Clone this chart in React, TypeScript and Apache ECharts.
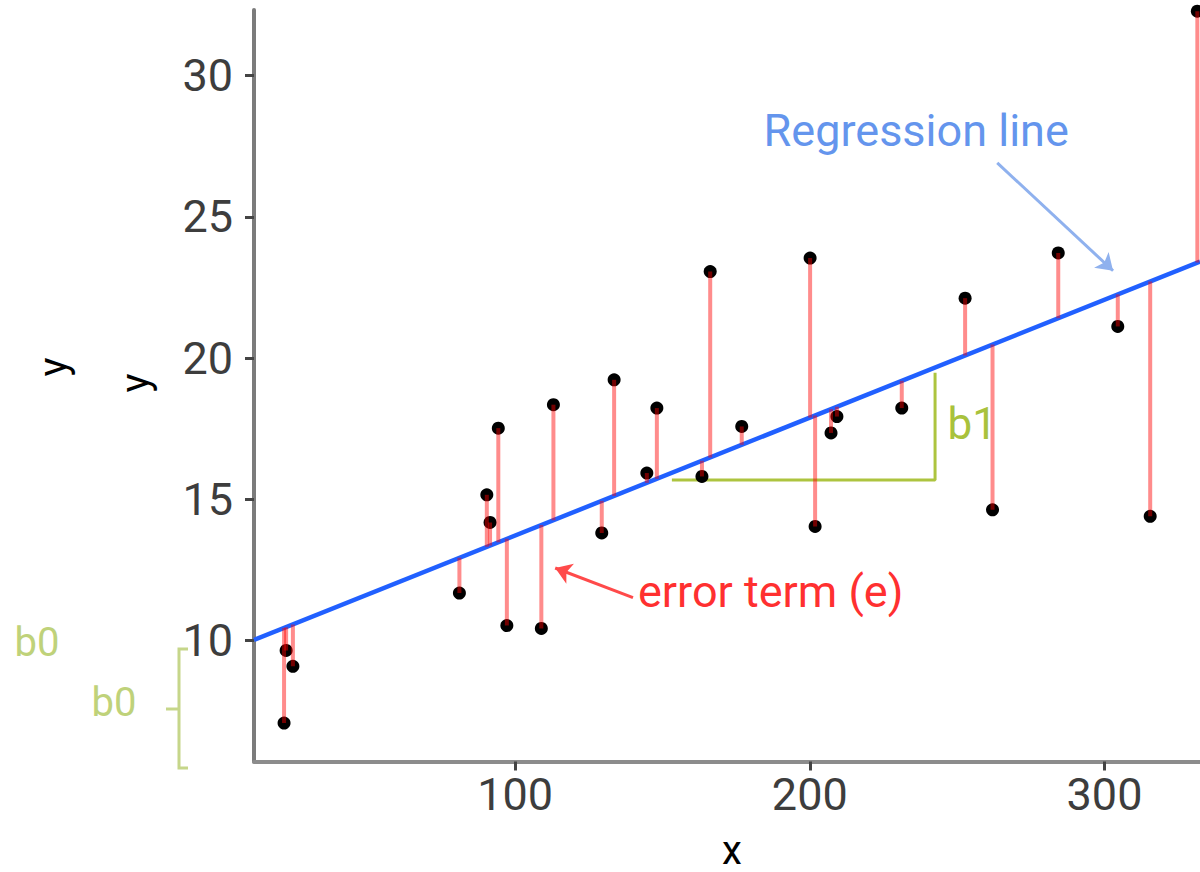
import React, { useEffect, useRef } from "react";
import * as echarts from "echarts";

const X_VALUES = [21.6, 22.3, 24.6, 81.1, 90.4, 91.5, 94.3, 97.2, 108.9, 113.0, 129.4, 133.6, 144.7, 148.1, 163.4, 166.2, 176.9, 200.1, 201.8, 207.2, 209.2, 231.2, 252.7, 262.0, 284.3, 304.5, 315.5, 331.5];
const Y_VALUES = [7.08, 9.65, 9.09, 11.68, 15.16, 14.18, 17.52, 10.53, 10.43, 18.35, 13.81, 19.23, 15.93, 18.23, 15.81, 23.06, 17.58, 23.54, 14.04, 17.35, 17.93, 18.23, 22.12, 14.63, 23.72, 21.12, 14.40, 32.28];

// Fitted regression line y = b0 + b1 * x
const INTERCEPT = 9.544;
const SLOPE = 0.04174;

// Axes
const X_RANGE = [11.4, 332.4];
const Y_RANGE = [5.72, 32.32];
const X_TICKS = [100, 200, 300];
const Y_TICKS = [10, 15, 20, 25, 30];

// b1 "run / rise" triangle (data coordinates)
const TRIANGLE_X = [153.2, 242.5, 242.5];
const TRIANGLE_Y = [15.68, 15.68, 19.48];

// Annotation arrows (data coordinates)
const REG_ARROW_FROM = [263.6, 26.91];
const REG_ARROW_TO = [302.9, 23.09];
const ERR_ARROW_FROM = [140.0, 11.52];
const ERR_ARROW_TO = [113.6, 12.57];

// Annotation text anchors (data coordinates)
const REG_LABEL_AT = [236.1, 28.04];
const ERR_LABEL_AT = [141.7, 11.73];
const B1_LABEL_AT = [255.1, 17.68];

const FONT = 'Roboto, "Liberation Sans", Arial, Helvetica, sans-serif';

export default function App() {
  const ref = useRef<HTMLDivElement>(null);

  useEffect(() => {
    if (!ref.current) return;
    const chart = echarts.init(ref.current, null, { renderer: "svg" });
    const fit = (x: number) => INTERCEPT + SLOPE * x;
    const points = X_VALUES.map((x, i) => [x, Y_VALUES[i]]);
    const triangle = TRIANGLE_X.map((x, i) => [x, TRIANGLE_Y[i]]);

    chart.setOption({
      animation: false,
      backgroundColor: "#ffffff",
      grid: { left: 254, top: 10, right: 0, bottom: 110.5 },
      xAxis: {
        type: "value",
        min: X_RANGE[0],
        max: X_RANGE[1],
        splitLine: { show: false },
        axisLine: { show: true, onZero: false, lineStyle: { color: "#8c8c8c", width: 4 } },
        axisTick: { show: true, length: 9, customValues: X_TICKS, lineStyle: { color: "#444444", width: 3 } },
        axisLabel: { customValues: X_TICKS, fontSize: 45, color: "#3d3d3d", margin: 10, fontFamily: FONT },
      },
      yAxis: {
        type: "value",
        min: Y_RANGE[0],
        max: Y_RANGE[1],
        splitLine: { show: false },
        axisLine: { show: true, onZero: false, lineStyle: { color: "#7b7b7b", width: 4 } },
        axisTick: { show: true, length: 9, customValues: Y_TICKS, lineStyle: { color: "#444444", width: 3 } },
        axisLabel: { customValues: Y_TICKS, fontSize: 45, color: "#3d3d3d", margin: 21, fontFamily: FONT },
      },
      series: [
        {
          type: "line",
          data: [
            [X_RANGE[0], fit(X_RANGE[0])],
            [X_RANGE[1], fit(X_RANGE[1])],
          ],
          symbol: "none",
          silent: true,
          lineStyle: { color: "#2160ff", width: 4.5 },
          z: 2,
        },
        {
          type: "line",
          data: triangle,
          symbol: "none",
          silent: true,
          lineStyle: { color: "#adc43f", width: 3 },
          z: 3,
        },
        {
          type: "scatter",
          data: points,
          symbolSize: 13,
          itemStyle: { color: "#000000", opacity: 1 },
          silent: true,
          clip: true,
          z: 4,
          markLine: {
            silent: true,
            symbol: ["none", "arrow"],
            symbolSize: 16,
            label: { show: false },
            lineStyle: { type: "solid" },
            data: [
              [
                { coord: REG_ARROW_FROM, lineStyle: { color: "#8fb1ee", width: 3, type: "solid" } },
                { coord: REG_ARROW_TO },
              ],
              [
                { coord: ERR_ARROW_FROM, lineStyle: { color: "#ff4a4a", width: 3, type: "solid" } },
                { coord: ERR_ARROW_TO },
              ],
            ],
          },
        },
        {
          type: "custom",
          data: points,
          clip: true,
          silent: true,
          z: 5,
          renderItem: (_params: any, api: any) => {
            const x = api.value(0);
            const y = api.value(1);
            const p1 = api.coord([x, y]);
            const p2 = api.coord([x, fit(x)]);
            return {
              type: "line",
              shape: { x1: p1[0], y1: p1[1], x2: p2[0], y2: p2[1] },
              style: { stroke: "rgba(255,0,0,0.45)", lineWidth: 4 },
            };
          },
        },
      ],
    });

    const toPx = (v: number[]) => chart.convertToPixel({ xAxisIndex: 0, yAxisIndex: 0 }, v) as number[];
    const reg = toPx(REG_LABEL_AT);
    const err = toPx(ERR_LABEL_AT);
    const b1 = toPx(B1_LABEL_AT);
    const green = "#a9c23c";
    const paleGreen = "#bfd27a";

    chart.setOption({
      graphic: [
        { type: "text", x: reg[0], y: reg[1], silent: true, style: { text: "Regression line", fill: "#6495ed", fontSize: 45, fontFamily: FONT, align: "center", verticalAlign: "middle" } },
        { type: "text", x: err[0], y: err[1], silent: true, style: { text: "error term (e)", fill: "#ff3030", fontSize: 45, fontFamily: FONT, align: "left", verticalAlign: "middle" } },
        { type: "text", x: b1[0], y: b1[1], silent: true, style: { text: "b1", fill: green, fontSize: 44, fontFamily: FONT, align: "center", verticalAlign: "middle" } },
        { type: "text", x: 732, y: 850, silent: true, style: { text: "x", fill: "#000", fontSize: 40, fontFamily: FONT, align: "center", verticalAlign: "middle" } },
        { type: "text", x: 53, y: 367, rotation: Math.PI / 2, silent: true, style: { text: "y", fill: "#000", fontSize: 40, fontFamily: FONT, align: "center", verticalAlign: "middle" } },
        { type: "text", x: 135, y: 383, rotation: Math.PI / 2, silent: true, style: { text: "y", fill: "#000", fontSize: 40, fontFamily: FONT, align: "center", verticalAlign: "middle" } },
        { type: "text", x: 37, y: 642, silent: true, style: { text: "b0", fill: paleGreen, fontSize: 40, fontFamily: FONT, align: "center", verticalAlign: "middle" } },
        { type: "text", x: 114, y: 702, silent: true, style: { text: "b0", fill: paleGreen, fontSize: 40, fontFamily: FONT, align: "center", verticalAlign: "middle" } },
        { type: "polyline", silent: true, shape: { points: [[188, 649], [179, 649], [179, 768], [188, 768]] }, style: { stroke: "#c6d68a", lineWidth: 3, fill: null } },
        { type: "line", silent: true, shape: { x1: 166, y1: 709, x2: 179, y2: 709 }, style: { stroke: "#c6d68a", lineWidth: 3 } },
      ],
    });

    return () => chart.dispose();
  }, []);

  return (
    <div
      ref={ref}
      style={{ position: "fixed", left: 0, top: 0, width: 1200, height: 872, background: "#fff" }}
    />
  );
}
